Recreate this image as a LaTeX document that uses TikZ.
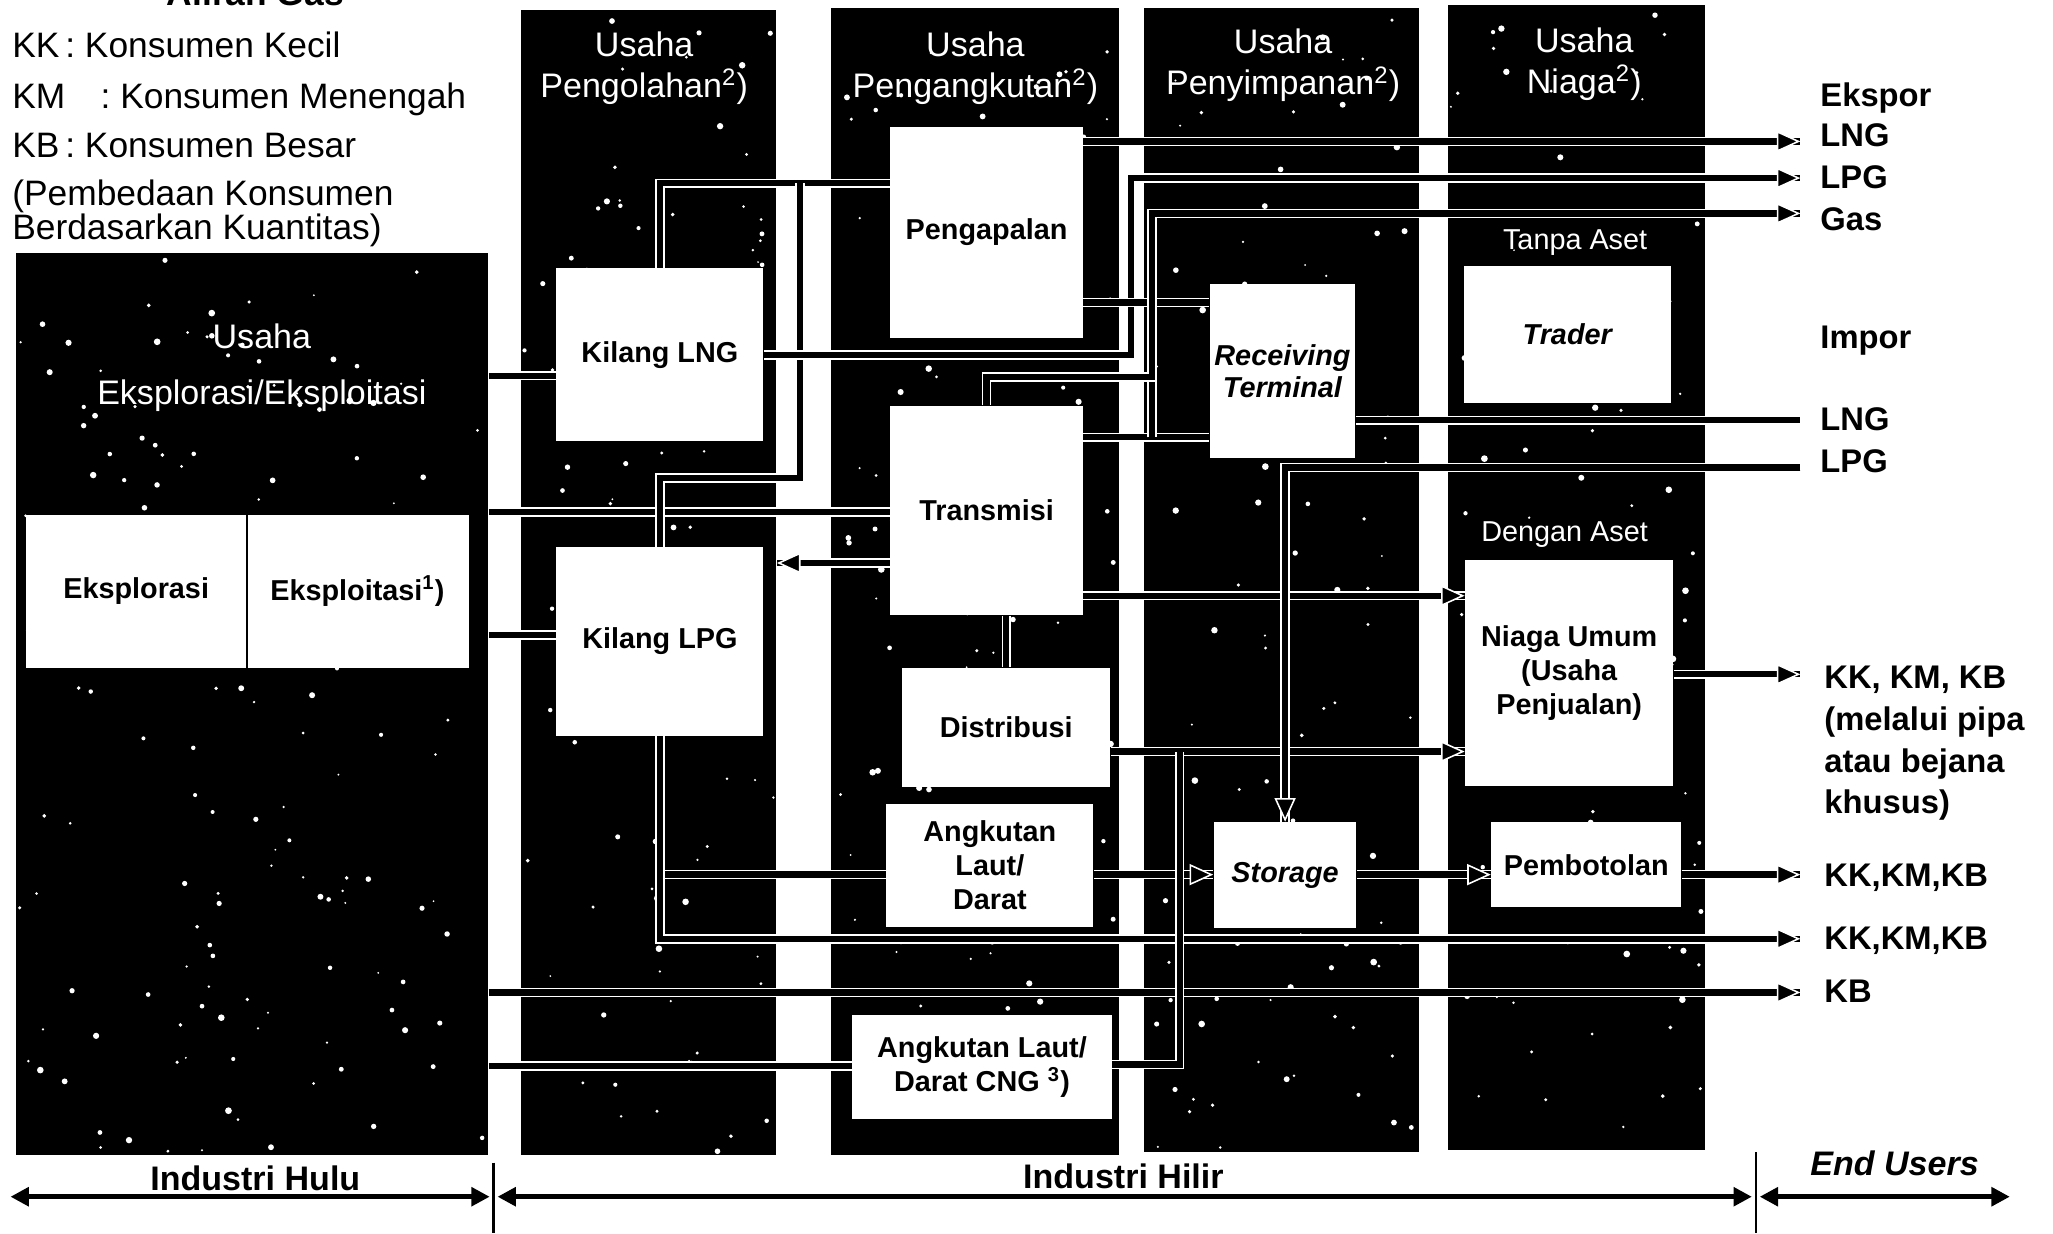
\documentclass[tikz,border=0pt]{standalone}
\usepackage{fontspec}
\setmainfont{Liberation Sans}
\usetikzlibrary{arrows.meta,fit}

% scatter small white specks over a dark band
\newcommand\speckle[5]{%
  \foreach \k in {1,...,#5}{%
    \pgfmathsetmacro\sx{#1+rnd*(#3-#1)}%
    \pgfmathsetmacro\sy{#2+rnd*(#4-#2)}%
    \pgfmathsetmacro\sr{0.35+rnd*0.95}%
    \fill[white] (\sx,\sy) circle[radius=\sr pt];
  }}
% a flow line with an arrow tip at its end
\newcommand\flowarrow[1]{\draw[flow] #1; \draw[tip] #1;}

\begin{document}
\begin{tikzpicture}[x=0.5pt,y=-0.5pt,
  column/.style={fill=black, draw=none, inner sep=0pt},
  box/.style={fill=white, draw=none, inner sep=0pt},
  boxtext/.style={align=center, inner sep=0pt,
    font=\fontsize{11}{13}\selectfont\bfseries},
  boxit/.style={boxtext, font=\fontsize{11}{12}\selectfont\bfseries\itshape},
  head/.style={text=white, align=center, inner sep=0pt,
    font=\fontsize{13}{15.5}\selectfont},
  legend/.style={anchor=base west, inner sep=0pt, font=\fontsize{13.5}{16}\selectfont},
  endlabel/.style={anchor=base west, inner sep=0pt,
    font=\fontsize{12.5}{15}\selectfont\bfseries},
  zone/.style={anchor=base, inner sep=0pt, font=\fontsize{13}{15}\selectfont\bfseries},
  flow/.style={draw=white, double=black, line width=0.6pt, double distance=2.4pt},
  tip/.style={draw=black, line width=2.4pt,
    -{Triangle[length=9pt,width=8pt,line width=0.6pt,color=white,fill=black]}},
  span/.style={draw=black, line width=2pt,
    {Triangle[length=7pt,width=7pt]}-{Triangle[length=7pt,width=7pt]}},
  tick/.style={draw=black, line width=1pt},
]
\useasboundingbox (0,0) rectangle (1568,942);
\fill[white] (0,0) rectangle (1568,942);

% ---------- legend ----------
\node[anchor=base, inner sep=0pt, font=\fontsize{13.5}{16}\selectfont\bfseries] (title) at (195,4) {Aliran Gas};
\node[legend] (kk) at (9,44) {KK\,: Konsumen Kecil};
\node[legend] (km) at (9,83) {KM\quad: Konsumen Menengah};
\node[legend] (kb) at (9,120) {KB\,: Konsumen Besar};
\node[anchor=north west, inner sep=0pt, align=left,
  font=\fontsize{13.5}{16}\selectfont] (nb) at (9,137)
  {(Pembedaan Konsumen\\[-3pt]Berdasarkan Kuantitas)};

% ---------- business columns ----------
\node[column, fit={(12,193) (373,882)}] (c1) {};
\node[column, fit={(398,8) (593,882)}] (c2) {};
\node[column, fit={(635,6) (855,882)}] (c3) {};
\node[column, fit={(874,6) (1084,880)}] (c4) {};
\node[column, fit={(1106,4) (1302,878)}] (c5) {};

\pgfmathsetseed{2024}
\speckle{14}{196}{371}{880}{150}
\speckle{400}{10}{591}{880}{95}
\speckle{637}{8}{853}{880}{110}
\speckle{876}{8}{1082}{878}{100}
\speckle{1108}{6}{1300}{876}{85}

% column headings
\node[head] (h1a) at (200,257) {Usaha};
\node[head] (h1b) at (200,302) {Eksplorasi/Eksploitasi};
\node[head] (h2) at (492,52) {Usaha\\Pengolahan\textsuperscript{2})};
\node[head] (h3) at (745,52) {Usaha\\Pengangkutan\textsuperscript{2})};
\node[head] (h4) at (980,50) {Usaha\\Penyimpanan\textsuperscript{2})};
\node[head] (h5) at (1210,49) {Usaha\\Niaga\textsuperscript{2})};
\node[head, font=\fontsize{11}{13}\selectfont] (h5a) at (1203,185) {Tanpa Aset};
\node[head, font=\fontsize{11}{13}\selectfont] (h5b) at (1195,408) {Dengan Aset};

% ---------- activity boxes ----------
\node[box, fit={(20,393) (188,510)}] (eksplor) {};
\node[box, fit={(188,393) (358,510)}] (eksploit) {};
\draw[black, line width=0.8pt] (eksplor.north east) -- (eksplor.south east);

\node[box, fit={(425,205) (583,337)}] (kln) {};
\node[box, fit={(425,418) (583,562)}] (klp) {};

\node[box, fit={(680,97) (827,258)}] (pen) {};
\node[box, fit={(680,310) (827,470)}] (tra) {};
\node[box, fit={(689,510) (848,601)}] (dis) {};
\node[box, fit={(677,614) (835,708)}] (ang) {};
\node[box, fit={(651,775) (849,855)}] (cng) {};

\node[box, fit={(924,217) (1035,350)}] (rt) {};
\node[box, fit={(927,628) (1036,709)}] (sto) {};

\node[box, fit={(1118,203) (1276,308)}] (trd) {};
\node[box, fit={(1119,428) (1278,600)}] (nia) {};
\node[box, fit={(1139,628) (1284,693)}] (pem) {};

% box captions
\node[boxtext] (t-eksplor) at (eksplor) {Eksplorasi};
\node[boxtext] (t-eksploit) at (eksploit) {Eksploitasi\textsuperscript{1})};
\node[boxtext] (t-kln) at (kln) {Kilang LNG};
\node[boxtext] (t-klp) at (klp) {Kilang LPG};
\node[boxtext] (t-pen) at (pen) {Pengapalan};
\node[boxtext] (t-tra) at (tra) {Transmisi};
\node[boxtext] (t-dis) at (dis) {Distribusi};
\node[boxtext] (t-ang) at (ang) {Angkutan\\Laut/\\Darat};
\node[boxtext] (t-cng) at (cng) {Angkutan Laut/\\Darat CNG \textsuperscript{3})};
\node[boxit] (t-rt) at (rt) {Receiving\\Terminal};
\node[boxit] (t-sto) at (sto) {Storage};
\node[boxit] (t-trd) at (trd) {Trader};
\node[boxtext] (t-nia) at (nia) {Niaga Umum\\(Usaha\\Penjualan)};
\node[boxtext] (t-pem) at (pem) {Pembotolan};

% ---------- free ends on the consumer side ----------
\coordinate (exlng) at (1375,108);
\coordinate (exlpg) at (1375,136);
\coordinate (exgas) at (1375,163);
\coordinate (imlng) at (1375,321);
\coordinate (imlpg) at (1375,357);
\coordinate (eu1) at (1375,515);
\coordinate (eu2) at (1375,668);
\coordinate (eu3) at (1375,717);
\coordinate (eu4) at (1375,758);

% ---------- flows ----------
% from upstream
\draw[flow] (c1.east |- 0,287) -- (kln.west |- 0,287);
\draw[flow] (c1.east |- 0,391) -- (tra.west |- 0,391);
\draw[flow] (c1.east |- 0,485) -- (klp.west |- 0,485);
\flowarrow{(c1.east |- 0,758) -- (eu4)}
\draw[flow] (c1.east |- 0,814) -- (cng.west |- 0,814);

% refinery outputs
\coordinate (j1) at (611,140);
\coordinate (b1) at (864,136);
\draw[flow] (kln.north) |- (pen.west |- 0,140);
\draw[flow] (klp.north) |- (611,365) -- (j1);
\flowarrow{(kln.east) -| (b1) -- (exlpg)}
\draw[flow] (klp.south) |- (ang.west |- 0,668);
\flowarrow{(klp.south) |- (eu3)}

% transport
\coordinate (b2) at (880,288);
\coordinate (j2) at (901,574);
\coordinate (j3) at (880,334);
\flowarrow{(pen.east |- 0,108) -- (exlng)}
\draw[flow] (pen.east |- 0,231) -- (rt.west |- 0,231);
\draw[flow] (tra.east |- 0,334) -- (rt.west |- 0,334);
\draw[flow] (j3) -- (b2);
\flowarrow{(tra.north) |- (b2) |- (exgas)}
\flowarrow{(tra.west |- 0,430) -- (c2.east |- 0,430)}
\flowarrow{(tra.east |- 0,455) -- (nia.west |- 0,455)}
\draw[flow] (tra.south -| dis.north) -- (dis.north);
\flowarrow{(dis.east |- 0,574) -- (nia.west |- 0,574)}
\flowarrow{(ang.east |- 0,668) -- (sto.west |- 0,668)}
\draw[flow] (cng.east |- 0,813) -| (j2);

% storage and trade
\draw[flow] (rt.east |- 0,321) -- (imlng);
\flowarrow{(imlpg) -| (sto.north)}
\flowarrow{(sto.east |- 0,668) -- (pem.west |- 0,668)}
\flowarrow{(nia.east |- 0,515) -- (eu1)}
\flowarrow{(pem.east |- 0,668) -- (eu2)}

% ---------- consumer side labels ----------
\node[endlabel] (lex) at (1390,81) {Ekspor};
\node[endlabel] (lexlng) at (1390,112) {LNG};
\node[endlabel] (lexlpg) at (1390,144) {LPG};
\node[endlabel] (lexgas) at (1390,176) {Gas};
\node[endlabel] (lim) at (1390,266) {Impor};
\node[endlabel] (limlng) at (1390,329) {LNG};
\node[endlabel] (limlpg) at (1390,361) {LPG};
\node[endlabel] (leu1a) at (1393,526) {KK, KM, KB};
\node[endlabel] (leu1b) at (1393,558) {(melalui pipa};
\node[endlabel] (leu1c) at (1393,590) {atau bejana};
\node[endlabel] (leu1d) at (1393,621) {khusus)};
\node[endlabel] (leu2) at (1393,677) {KK,KM,KB};
\node[endlabel] (leu3) at (1393,725) {KK,KM,KB};
\node[endlabel] (leu4) at (1393,766) {KB};

% ---------- industry spans ----------
\coordinate (s1a) at (8,914);
\coordinate (s1b) at (374,914);
\coordinate (s2a) at (380,914);
\coordinate (s2b) at (1338,914);
\coordinate (s3a) at (1344,914);
\coordinate (s3b) at (1535,914);
\draw[span] (s1a) -- (s1b);
\draw[span] (s2a) -- (s2b);
\draw[span] (s3a) -- (s3b);
\draw[tick] (377,888) -- (377,942);
\draw[tick] (1341,880) -- (1341,942);
\node[zone] (hulu) at (195,909) {Industri Hulu};
\node[zone] (hilir) at (858,908) {Industri Hilir};
\node[zone, font=\fontsize{13}{15}\selectfont\bfseries\itshape] (eusr) at (1447,898) {End Users};
\end{tikzpicture}
\end{document}
